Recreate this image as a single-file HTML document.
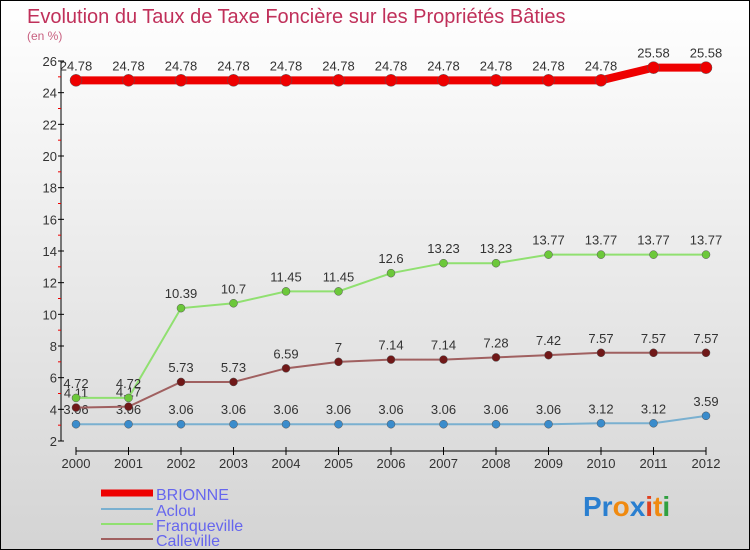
<!DOCTYPE html>
<html><head><meta charset="utf-8"><style>
body{margin:0}
#c{width:750px;height:550px;position:relative;background:linear-gradient(#ffffff,#d4d4d4);font-family:"Liberation Sans",sans-serif;box-sizing:border-box;border:1px solid #000;overflow:hidden}
text{font-family:"Liberation Sans",sans-serif}
</style></head><body>
<div id="c">
<svg id="s" width="750" height="550">
<text x="26" y="22" font-size="20" fill="#c0305a">Evolution du Taux de Taxe Foncière sur les Propriétés Bâties</text>
<text x="26" y="39" font-size="12" fill="#c86080">(en %)</text>
<g id="g"></g>
<g>
<line x1="100" y1="492" x2="152" y2="492" stroke="#e00" stroke-width="7"/>
<text x="155" y="499" font-size="16" fill="#6666ee">BRIONNE</text>
<line x1="100" y1="508" x2="152" y2="508" stroke="#7ab0d0" stroke-width="2"/>
<text x="155" y="515" font-size="16" fill="#6666ee">Aclou</text>
<line x1="100" y1="523" x2="152" y2="523" stroke="#90e070" stroke-width="2"/>
<text x="155" y="530" font-size="16" fill="#6666ee">Franqueville</text>
<line x1="100" y1="538" x2="152" y2="538" stroke="#a06060" stroke-width="2"/>
<text x="155" y="545" font-size="16" fill="#6666ee">Calleville</text>
</g>
<text x="582" y="515" font-size="28" font-weight="bold"><tspan fill="#2a7fd0">Pr</tspan><tspan fill="#f08a10">o</tspan><tspan fill="#2a7fd0">x</tspan><tspan fill="#e04020">i</tspan><tspan fill="#f08a10">t</tspan><tspan fill="#30a040">i</tspan></text>
</svg>
</div>
<script>
const years=["2000","2001","2002","2003","2004","2005","2006","2007","2008","2009","2010","2011","2012"];
const brionne=[24.78,24.78,24.78,24.78,24.78,24.78,24.78,24.78,24.78,24.78,24.78,25.58,25.58];
const aclou=[3.06,3.06,3.06,3.06,3.06,3.06,3.06,3.06,3.06,3.06,3.12,3.12,3.59];
const franqueville=[4.72,4.72,10.39,10.7,11.45,11.45,12.6,13.23,13.23,13.77,13.77,13.77,13.77];
const calleville=[4.11,4.17,5.73,5.73,6.59,7,7.14,7.14,7.28,7.42,7.57,7.57,7.57];
const yTicks=[2,4,6,8,10,12,14,16,18,20,22,24,26];
const NS="http://www.w3.org/2000/svg",g=document.getElementById('g');
const X=i=>75+i*52.5, Y=v=>440-(v-2)*(380/24);
function mk(t,a){const e=document.createElementNS(NS,t);for(const k in a)e.setAttribute(k,a[k]);g.appendChild(e);return e;}
let e=mk('line',{x1:60,y1:Y(26),x2:60,y2:Y(2),stroke:'#000'});


e=mk('line',{x1:X(0),y1:450,x2:X(12),y2:450,stroke:'#000'});


yTicks.forEach(v=>{mk('line',{x1:57,x2:63,y1:Y(v),y2:Y(v),stroke:'#000'});
 if(v<26)mk('line',{x1:57,x2:60,y1:Y(v+1),y2:Y(v+1),stroke:'#e00'});
 e=mk('text',{x:56,y:Y(v)+5,'text-anchor':'end','font-size':13,fill:'#333'});e.textContent=v;
 
 });
years.forEach((y,i)=>{mk('line',{x1:X(i),x2:X(i),y1:446,y2:454,stroke:'#000'});
 e=mk('text',{x:X(i),y:467,'text-anchor':'middle','font-size':13,fill:'#333'});e.textContent=y;
 
 });
function series(d,name,lc,pc,w,r){
 e=mk('polyline',{points:d.map((v,i)=>X(i)+','+Y(v)).join(' '),fill:'none',stroke:lc,'stroke-width':w});
 
 
 d.forEach((v,i)=>{e=mk('circle',{cx:X(i),cy:Y(v),r:r,fill:pc,stroke:'#555','stroke-width':0.5});
  
  
  e=mk('text',{x:X(i),y:Y(v)-10,'text-anchor':'middle','font-size':13,fill:'#333'});e.textContent=v;
  
  });
}
series(aclou,'aclou','#7ab0d0','#3a8ccc',2,4);
series(calleville,'calleville','#a06060','#701818',2,4);
series(franqueville,'franqueville','#90e070','#6cc83a',2,4);
series(brionne,'brionne','#e00','#e00',8,6);
</script>
</body></html>
